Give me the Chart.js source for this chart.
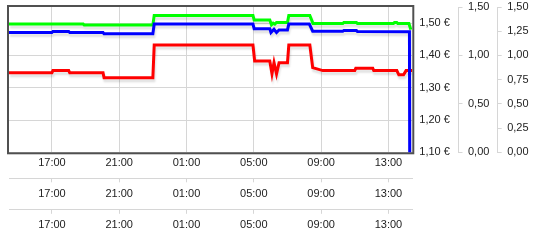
<!DOCTYPE html>
<html><head><meta charset="utf-8">
<script src="https://cdn.jsdelivr.net/npm/chart.js@4"></script>
<style>html,body{margin:0;padding:0;background:#fff}canvas{display:block}</style>
</head><body>
<canvas id="c" width="543" height="245"></canvas>
<script>
// Time in hours (values above 24 belong to the next day)
const xTickHours = [17, 21, 25, 29, 33, 37];
const euroTicks = [1.10, 1.20, 1.30, 1.40, 1.50];
const axis2Ticks = [0, 0.5, 1.0, 1.5];
const axis3Ticks = [0, 0.25, 0.5, 0.75, 1.0, 1.25, 1.5];

const greenTimes  = [14.45, 18.86, 18.92, 23.0, 23.08, 28.95, 29.02, 29.95, 30.05, 30.15, 30.25, 30.35, 30.45, 31.0, 31.08, 32.33, 32.52, 34.29, 34.35, 35.1, 35.16, 37.3, 37.36, 37.5, 37.56, 38.22, 38.33];
const greenValues = [1.497, 1.497, 1.494, 1.494, 1.524, 1.524, 1.510, 1.510, 1.495, 1.500, 1.497, 1.502, 1.502, 1.502, 1.524, 1.524, 1.499, 1.499, 1.502, 1.502, 1.499, 1.499, 1.502, 1.502, 1.499, 1.499, 1.480];

const blueTimes  = [14.45, 17.0, 17.06, 18.0, 18.06, 20.04, 20.1, 23.0, 23.08, 28.95, 29.02, 29.95, 30.02, 30.2, 30.35, 30.5, 31.0, 31.08, 32.3, 32.5, 34.29, 34.35, 35.1, 35.16, 38.25, 38.31];
const blueValues = [1.471, 1.471, 1.474, 1.474, 1.471, 1.471, 1.467, 1.467, 1.497, 1.497, 1.483, 1.483, 1.471, 1.481, 1.471, 1.479, 1.479, 1.497, 1.497, 1.475, 1.475, 1.477, 1.477, 1.474, 1.473, 0];

const redTimes  = [14.45, 17.0, 17.06, 18.0, 18.06, 20.04, 20.1, 23.0, 23.08, 28.95, 29.05, 29.95, 30.08, 30.2, 30.35, 30.5, 31.0, 31.08, 32.33, 32.5, 33.1, 35.0, 35.06, 36.07, 36.13, 37.5, 37.62, 37.9, 38.05, 38.42];
const redValues = [1.346, 1.346, 1.353, 1.353, 1.346, 1.346, 1.331, 1.331, 1.432, 1.432, 1.383, 1.383, 1.343, 1.378, 1.343, 1.377, 1.377, 1.432, 1.432, 1.362, 1.353, 1.353, 1.360, 1.360, 1.353, 1.353, 1.340, 1.340, 1.353, 1.353];

const X_MIN = 14.45, X_MAX = 38.42;
const font = {family: "'Liberation Sans', Arial, sans-serif", size: 11};
const gridCol = '#d6d6d6';
const labelCol = '#222';

const fmt = v => v.toFixed(2).replace('.', ',');
const hourLabel = v => String(Math.round(v) % 24).padStart(2, '0') + ':00';
const pts = (t, v) => t.map((x, i) => ({x: x, y: v[i]}));
const setTicks = arr => (s => { s.ticks = arr.map(v => ({value: v})); });
const noPad = s => { s.paddingTop = 0; s.paddingBottom = 0; s.paddingLeft = 0; s.paddingRight = 0; };

const framePlugin = {
  id: 'frame',
  beforeDatasetsDraw(chart) {
    const {ctx, chartArea: a} = chart;
    ctx.save();
    ctx.strokeStyle = '#505050';
    ctx.lineWidth = 2;
    ctx.strokeRect(a.left - 1, a.top - 1, a.right - a.left + 2, a.bottom - a.top + 2);
    ctx.restore();
    ctx.save();
    ctx.shadowColor = 'rgba(0,0,0,0.12)';
    ctx.shadowOffsetX = 1;
    ctx.shadowOffsetY = 3;
    ctx.shadowBlur = 2;
  },
  afterDatasetsDraw(chart) { chart.ctx.restore(); }
};

const xAxis = (h, pad, ticksOn) => ({
  type: 'linear', position: 'bottom', min: X_MIN, max: X_MAX,
  afterBuildTicks: setTicks(xTickHours),
  ticks: {callback: hourLabel, font: font, color: labelCol, padding: pad, maxRotation: 0, autoSkip: false},
  grid: ticksOn ? {drawOnChartArea: false, drawTicks: true, tickLength: 4, color: gridCol}
                : {color: gridCol, drawTicks: false},
  border: {display: ticksOn, color: gridCol},
  afterFit: s => { s.height = h; noPad(s); }
});
const yAxis = (arr, w) => ({
  type: 'linear', position: 'right', min: 0, max: 1.5,
  afterBuildTicks: setTicks(arr),
  ticks: {callback: v => fmt(v), font: font, color: labelCol, padding: 5.5},
  grid: {drawOnChartArea: false, drawTicks: true, tickLength: 4, color: gridCol},
  border: {display: true, color: gridCol},
  afterFit: s => { s.width = w; noPad(s); }
});

new Chart(document.getElementById('c'), {
  type: 'line',
  data: {
    datasets: [
      {data: pts(blueTimes, blueValues), borderColor: '#0000ff', yAxisID: 'y', xAxisID: 'x'},
      {data: pts(greenTimes, greenValues), borderColor: '#00ff00', yAxisID: 'y', xAxisID: 'x'},
      {data: pts(redTimes, redValues), borderColor: '#ff0000', yAxisID: 'y', xAxisID: 'x'}
    ]
  },
  options: {
    responsive: false, animation: false, devicePixelRatio: 1,
    layout: {padding: {left: 9, top: 7, right: 14.3, bottom: 10.2}},
    elements: {line: {borderWidth: 3, tension: 0, fill: false, borderJoinStyle: 'miter'}, point: {radius: 0, hoverRadius: 0}},
    plugins: {legend: {display: false}, tooltip: {enabled: false}},
    scales: {
      x: xAxis(26, 4, false),
      x2: xAxis(31.5, 5, true),
      x3: xAxis(25, 5, true),
      y: {
        type: 'linear', position: 'right', min: 1.10, max: 1.55,
        afterBuildTicks: setTicks(euroTicks),
        ticks: {callback: v => fmt(v) + ' €', font: font, color: labelCol, padding: 7},
        grid: {color: gridCol, drawTicks: false},
        border: {display: false},
        afterFit: s => { s.width = 46.2; noPad(s); }
      },
      y2: yAxis(axis2Ticks, 39.2),
      y3: yAxis(axis3Ticks, 31)
    }
  },
  plugins: [framePlugin]
});
</script>
</body></html>
